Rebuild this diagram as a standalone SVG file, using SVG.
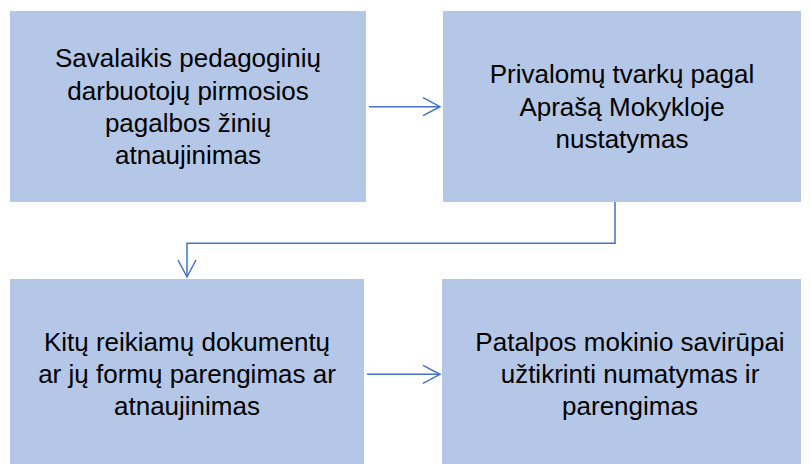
<svg xmlns="http://www.w3.org/2000/svg" width="811" height="464" viewBox="0 0 811 464">
<style>
.box{fill:#B4C7E7;}
.t{font-family:"Liberation Sans",Arial,sans-serif;font-size:26px;fill:#000;text-anchor:middle;}
.c{fill:none;stroke:#4472C4;stroke-width:1.5;}
</style>
<defs>
<marker id="ah" markerWidth="20" markerHeight="20" refX="18" refY="10" orient="auto" markerUnits="userSpaceOnUse">
<path d="M1,1 L18,10 L1,19" fill="none" stroke="#4472C4" stroke-width="1.5"/>
</marker>
</defs>
<rect width="811" height="464" fill="#fff"/>
<g id="n1"><rect class="box" x="10" y="11" width="356" height="191"/>
<text class="t" x="188" y="67">Savalaikis pedagoginių</text>
<text class="t" x="188" y="99.5">darbuotojų pirmosios</text>
<text class="t" x="188" y="131.5">pagalbos žinių</text>
<text class="t" x="188" y="164">atnaujinimas</text></g>
<g id="n2"><rect class="box" x="443" y="11" width="358" height="191"/>
<text class="t" x="622" y="83">Privalomų tvarkų pagal</text>
<text class="t" x="622" y="115.5">Aprašą Mokykloje</text>
<text class="t" x="622" y="148">nustatymas</text></g>
<g id="n3"><rect class="box" x="10" y="279" width="354" height="185"/>
<text class="t" x="187" y="350.5">Kitų reikiamų dokumentų</text>
<text class="t" x="187" y="382.5">ar jų formų parengimas ar</text>
<text class="t" x="187" y="415">atnaujinimas</text></g>
<g id="n4"><rect class="box" x="442" y="279" width="359" height="185"/>
<text class="t" x="630" y="350.5">Patalpos mokinio savirūpai</text>
<text class="t" x="630" y="382.5">užtikrinti numatymas ir</text>
<text class="t" x="630" y="415">parengimas</text></g>
<g id="connectors">
<path class="c" d="M369,106.7 H440" marker-end="url(#ah)"/>
<path class="c" d="M615,202 V243.3 H187 V277" marker-end="url(#ah)"/>
<path class="c" d="M367,374.3 H440" marker-end="url(#ah)"/>
</g>
</svg>
